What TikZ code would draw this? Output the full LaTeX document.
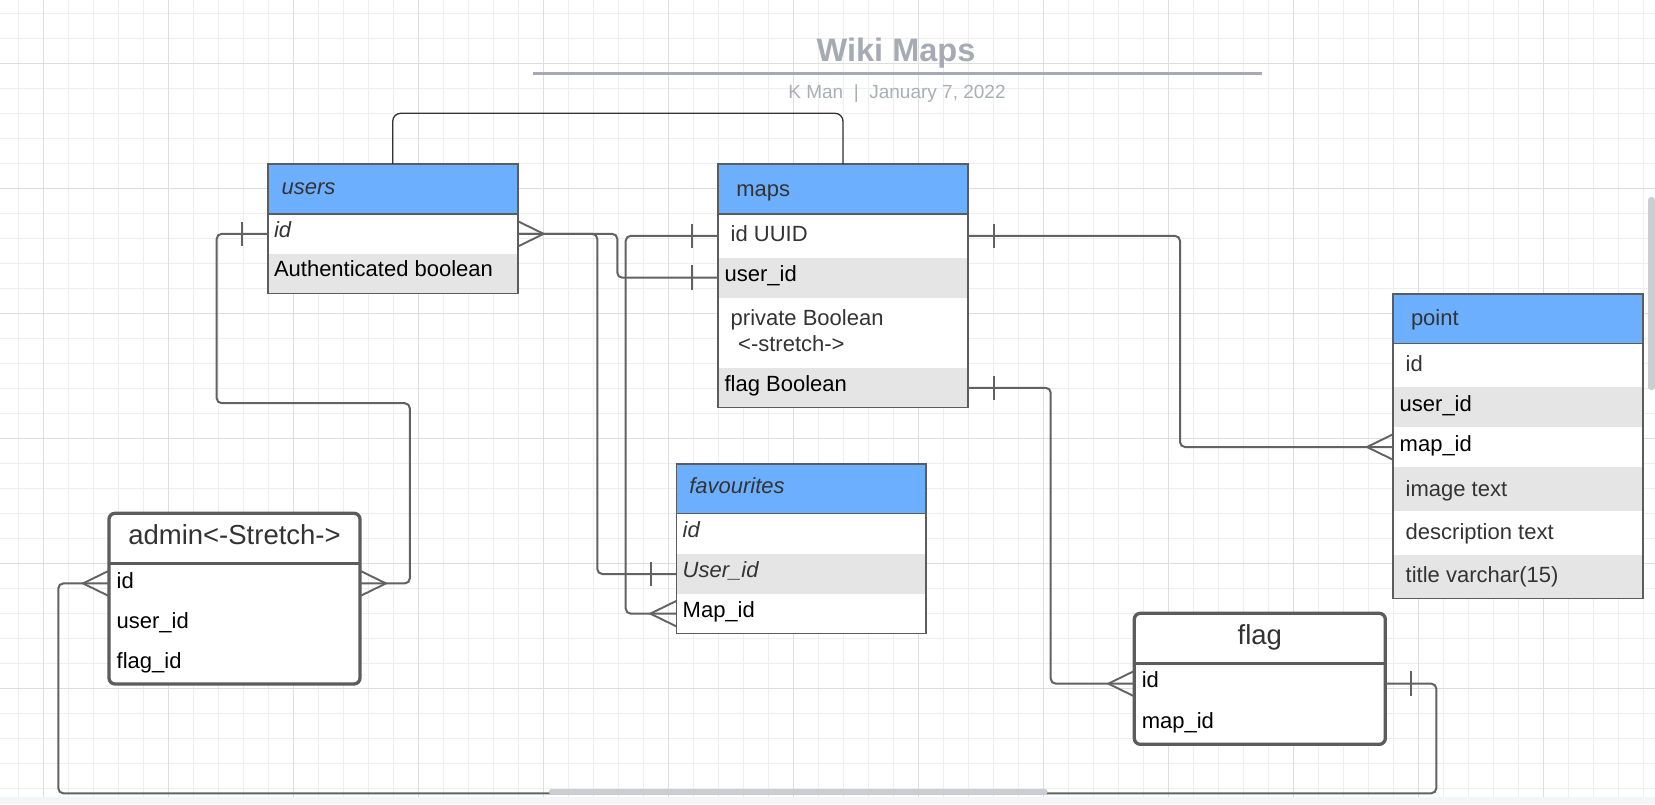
\documentclass[tikz,border=0pt]{standalone}
\usepackage{fontspec}
\setmainfont{Liberation Sans}
\definecolor{hdrblue}{HTML}{6CAFFF}
\definecolor{rowgrey}{HTML}{E5E5E5}
\definecolor{gridmin}{HTML}{EEEEEE}
\definecolor{gridmaj}{HTML}{DEDEDE}
\definecolor{connc}{HTML}{626262}
\definecolor{framec}{HTML}{5C5C5C}
\definecolor{txtdark}{HTML}{333333}
\definecolor{titlec}{HTML}{A5AAB4}
\definecolor{subc}{HTML}{A9AEB7}
\definecolor{stripc}{HTML}{F3F5F8}
\definecolor{scrollc}{HTML}{CACDD2}
\def\rw{250}
% row: name, x, ytop, ybottom, fill, text pad, baseline offset, text style, text
\newcommand\ERrow[9]{%
  \node[rowbox, fill=#5, minimum height={(#4)-(#3)}, anchor=north west] (#1) at (#2,#3) {};%
  \node[#8, anchor=base west] (#1-t) at ([xshift=#6pt, yshift={0pt-(#7pt)}]#1.west) {#9};%
}
\newcommand\ERtickL[1]{\draw[endm] ([xshift=-25.7pt,yshift=12.3pt]#1.west) -- ([xshift=-25.7pt,yshift=-12.3pt]#1.west);}
\newcommand\ERtickR[1]{\draw[endm] ([xshift=25.7pt,yshift=12.3pt]#1.east) -- ([xshift=25.7pt,yshift=-12.3pt]#1.east);}
\newcommand\ERcrowL[1]{\draw[endm] ([yshift=12.7pt]#1.west) -- ([xshift=-26pt]#1.west) -- ([yshift=-12.7pt]#1.west);}
\newcommand\ERcrowR[1]{\draw[endm] ([yshift=12.7pt]#1.east) -- ([xshift=26pt]#1.east) -- ([yshift=-12.7pt]#1.east);}
\begin{document}
\begin{tikzpicture}[x=1pt,y=-1pt,
  rowbox/.style={rectangle, inner sep=0, outer sep=0, draw=none, minimum width=\rw},
  rowk/.style={font=\fontsize{22}{26}\selectfont, text=black, inner sep=0, outer sep=0},
  rowg/.style={font=\fontsize{22}{26}\selectfont, text=txtdark, inner sep=0, outer sep=0},
  rowi/.style={font=\fontsize{22}{26}\selectfont\itshape, text=txtdark, inner sep=0, outer sep=0},
  hdr/.style={font=\fontsize{22}{26}\selectfont, text=txtdark, inner sep=0, outer sep=0},
  hdri/.style={font=\fontsize{22}{26}\selectfont\itshape, text=txtdark, inner sep=0, outer sep=0},
  ttl/.style={font=\fontsize{27.5}{32}\selectfont, text=txtdark, inner sep=0, outer sep=0},
  tblframe/.style={rectangle, draw=framec, line width=1.6, inner sep=0, outer sep=0, anchor=north west},
  erframe/.style={rectangle, draw=framec, line width=3.3, rounded corners=6, fill=white, inner sep=0, outer sep=0, anchor=north west},
  hline/.style={draw=framec, line width=1.6},
  erline/.style={draw=framec, line width=3.3},
  conn/.style={draw=connc, line width=2, rounded corners=5},
  thinconn/.style={draw=txtdark, line width=1.3, rounded corners=8},
  endm/.style={draw=connc, line width=1.9},
  gmin/.style={draw=gridmin, line width=1},
  gmaj/.style={draw=gridmaj, line width=1}
]
\useasboundingbox (0,0) rectangle (1655,804);
\fill[white] (0,0) rectangle (1655,804);
% grid
\foreach \i in {0,...,65} \draw[gmin] ({18.3+25*\i},0) -- ({18.3+25*\i},797);
\foreach \i in {0,...,31} \draw[gmin] (0,{13.3+25*\i}) -- (1655,{13.3+25*\i});
\foreach \i in {0,...,12} \draw[gmaj] ({43.3+125*\i},0) -- ({43.3+125*\i},797);
\foreach \i in {0,...,5} \draw[gmaj] (0,{63.3+125*\i}) -- (1655,{63.3+125*\i});

% title
\node[font=\fontsize{32.5}{38}\selectfont\bfseries, text=titlec, inner sep=0, anchor=base] (title) at (896,61.7) {Wiki Maps};
\draw[draw=titlec, line width=3] (533,73.3) -- (1262,73.3);
\node[font=\fontsize{19}{23}\selectfont, text=subc, inner sep=0, anchor=base] (subtitle) at (897,98.3) {K Man\ \ |\ \ January 7, 2022};

% ---------- users
\def\rw{250}
\ERrow{users-h}{267.7}{164}{213.7}{hdrblue}{14}{5.5}{hdri}{users}
\ERrow{users-id}{267.7}{213.7}{254}{white}{6.3}{3.7}{rowi}{id}
\ERrow{users-auth}{267.7}{254}{293.3}{rowgrey}{6.3}{3.3}{rowk}{Authenticated boolean}
\node[tblframe, minimum width=250, minimum height=129.3] (users) at (267.7,164) {};
\draw[hline] (users-h.south west) -- (users-h.south east);

% ---------- maps
\ERrow{maps-h}{718}{164}{214}{hdrblue}{18.4}{7}{hdr}{maps}
\ERrow{maps-id}{718}{214}{257.7}{white}{12.7}{5.7}{rowg}{id UUID}
\ERrow{maps-uid}{718}{257.7}{297.7}{rowgrey}{6.6}{4}{rowk}{user\_id}
\ERrow{maps-priv}{718}{297.7}{368.3}{white}{12.7}{-7.3}{rowg}{private Boolean}
\node[rowg, anchor=base west] (maps-priv-t2) at ([xshift=20.2pt, yshift=-18.7pt]maps-priv.west) {<-stretch->};
\ERrow{maps-flag}{718}{368.3}{407.3}{rowgrey}{6.6}{3.9}{rowk}{flag Boolean}
\node[tblframe, minimum width=250, minimum height=243.3] (maps) at (718,164) {};
\draw[hline] (maps-h.south west) -- (maps-h.south east);

% ---------- point
\ERrow{point-h}{1393}{294}{343.3}{hdrblue}{18}{7}{hdr}{point}
\ERrow{point-id}{1393}{343.3}{387.3}{white}{12.7}{6.4}{rowg}{id}
\ERrow{point-uid}{1393}{387.3}{426.7}{rowgrey}{6.7}{4.7}{rowk}{user\_id}
\ERrow{point-mid}{1393}{426.7}{467.3}{white}{6.7}{4.7}{rowk}{map\_id}
\ERrow{point-img}{1393}{467.3}{510.7}{rowgrey}{12.7}{7}{rowg}{image text}
\ERrow{point-desc}{1393}{510.7}{555}{white}{12.7}{6.5}{rowg}{description text}
\ERrow{point-title}{1393}{555}{598.3}{rowgrey}{12.7}{6}{rowg}{title varchar(15)}
\node[tblframe, minimum width=250, minimum height=304.3] (point) at (1393,294) {};
\draw[hline] (point-h.south west) -- (point-h.south east);

% ---------- favourites
\def\rw{249.7}
\ERrow{fav-h}{676.3}{464}{513.3}{hdrblue}{13}{4.6}{hdri}{favourites}
\ERrow{fav-id}{676.3}{513.3}{554}{white}{6.4}{3.9}{rowi}{id}
\ERrow{fav-uid}{676.3}{554}{594}{rowgrey}{6.4}{3.7}{rowi}{User\_id}
\ERrow{fav-mid}{676.3}{594}{633.3}{white}{6.4}{4}{rowk}{Map\_id}
\node[tblframe, minimum width=249.7, minimum height=169.3] (fav) at (676.3,464) {};
\draw[hline] (fav-h.south west) -- (fav-h.south east);

% ---------- admin
\def\rw{251}
\node[erframe, minimum width=251, minimum height=170.7] (admin) at (109,513.3) {};
\node[rowbox, minimum height=50, anchor=north west] (admin-h) at (109,513.3) {};
\node[ttl, anchor=base] (admin-t) at ([yshift=-5.7pt]admin-h.center) {admin<-Stretch->};
\ERrow{admin-id}{109}{563.3}{603.5}{none}{7.7}{4.9}{rowk}{id}
\ERrow{admin-uid}{109}{603.5}{643.7}{none}{7.7}{4.7}{rowk}{user\_id}
\ERrow{admin-fid}{109}{643.7}{684}{none}{7.7}{4.5}{rowk}{flag\_id}
\draw[erline] (admin-h.south west) -- (admin-h.south east);

% ---------- flag
\node[erframe, minimum width=251, minimum height=131] (flag) at (1134.3,613.3) {};
\node[rowbox, minimum height=50, anchor=north west] (flag-h) at (1134.3,613.3) {};
\node[ttl, anchor=base] (flag-t) at ([yshift=-5.7pt]flag-h.center) {flag};
\ERrow{flag-id}{1134.3}{663.3}{704}{none}{7.5}{3.6}{rowk}{id}
\ERrow{flag-map}{1134.3}{704}{744.3}{none}{7.5}{4.2}{rowk}{map\_id}
\draw[erline] (flag-h.south west) -- (flag-h.south east);

% ---------- connectors
\coordinate (aTop) at (0,113.3);
\draw[thinconn] (users-h.north) |- (aTop -| maps-h.north) -- (maps-h.north);

\coordinate (bX) at (597.3,0);
\draw[conn] (users-id.east) -| (bX |- fav-uid.west) -- (fav-uid.west);
\coordinate (cX) at (617.3,0);
\draw[conn] (users-id.east) -| (cX |- maps-uid.west) -- (maps-uid.west);
\coordinate (dX) at (625.7,0);
\draw[conn] (maps-id.west) -| (dX |- fav-mid.west) -- (fav-mid.west);
\coordinate (eX) at (1180,0);
\draw[conn] (maps-id.east) -| (eX |- point-mid.west) -- (point-mid.west);
\coordinate (fX) at (1050.7,0);
\draw[conn] (maps-flag.east) -| (fX |- flag-id.west) -- (flag-id.west);
\coordinate (gR) at (1436.3,793.3);
\coordinate (gL) at (58.3,793.3);
\draw[conn] (flag-id.east) -| (gR) -- (gL) |- (admin-id.west);
\coordinate (hA) at (216.7,403.2);
\coordinate (hB) at (409.8,403.2);
\draw[conn] (users-id.west) -| (hA) -- (hB) |- (admin-id.east);

% ends
\ERtickL{users-id}
\ERcrowR{users-id}
\ERtickL{maps-uid}
\ERtickL{fav-uid}
\ERtickL{maps-id}
\ERtickR{maps-id}
\ERcrowL{fav-mid}
\ERcrowL{point-mid}
\ERtickR{maps-flag}
\ERcrowL{flag-id}
\ERtickR{flag-id}
\ERcrowL{admin-id}
\ERcrowR{admin-id}

% ---------- window chrome
\fill[stripc] (0,797) rectangle (1655,804);
\fill[scrollc, rounded corners=2.5] (549,789) rectangle (1047.5,794.5);
\fill[scrollc, rounded corners=3] (1648,197) rectangle (1655,390);
\end{tikzpicture}
\end{document}
